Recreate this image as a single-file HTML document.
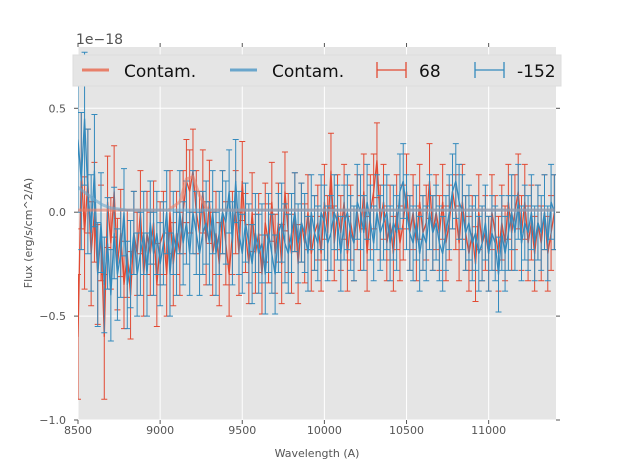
<!DOCTYPE html>
<html><head><meta charset="utf-8"><style>
body{margin:0;background:#fff;font-family:"Liberation Sans","DejaVu Sans",sans-serif}
svg text{font-family:"DejaVu Sans","Liberation Sans",sans-serif}
</style></head><body>
<svg id="chart" width="617" height="467" viewBox="0 0 617 467">
<rect x="78" y="47" width="478" height="373" fill="#e5e5e5"/>
<g id="grid"></g><g id="series"></g><g id="axes"></g>
<text x="76" y="44" font-size="14" fill="#555">1e−18</text>
<text x="317" y="457" font-size="11" fill="#555" text-anchor="middle">Wavelength (A)</text>
<text x="32" y="233" font-size="11" fill="#555" text-anchor="middle" transform="rotate(-90 32 233)">Flux (erg/s/cm^2/A)</text>
<g>
<rect x="73" y="55" width="488" height="31" fill="#e5e5e5" stroke="#ddd"/>
<line x1="82" y1="70" x2="109" y2="70" stroke="#e8806a" stroke-width="3"/>
<text x="124" y="77" font-size="17" fill="#111">Contam.</text>
<line x1="230" y1="70" x2="257" y2="70" stroke="#6aa6cc" stroke-width="3"/>
<text x="272" y="77" font-size="17" fill="#111">Contam.</text>
<path d="M377 62v16M406 62v16M377 70h29" stroke="#e24a33" stroke-width="1.3" fill="none"/>
<text x="419" y="77" font-size="17" fill="#111">68</text>
<path d="M475 62v16M504 62v16M475 70h29" stroke="#348abd" stroke-width="1.3" fill="none"/>
<text x="517" y="77" font-size="17" fill="#111">-152</text>
</g>
</svg>
<script>
const xTicks=[8500,9000,9500,10000,10500,11000];
const yTicks=[0.5,0.0,-0.5,-1.0];
const yTickLabels=["0.5","0.0","−0.5","−1.0"];
const waveStart=8500, waveStep=20;
const red68=[-0.6,0.2,-0.1,0.15,-0.2,0.0,-0.3,-0.1,-0.6,0.05,
-0.15,0.1,-0.25,-0.1,-0.35,-0.2,-0.4,-0.1,-0.2,0.0,
-0.3,-0.1,-0.2,-0.05,-0.35,-0.15,-0.1,-0.3,0.0,-0.25,
-0.1,-0.2,0.0,0.15,0.1,0.2,0.0,-0.1,0.1,-0.15,
0.05,-0.2,-0.1,-0.25,0.0,-0.15,-0.3,-0.1,0.0,-0.2,
0.15,-0.1,-0.25,0.0,-0.2,-0.1,-0.3,-0.05,-0.15,0.05,
-0.2,-0.05,-0.25,0.1,-0.1,-0.2,0.0,-0.25,-0.05,-0.15,
0.0,-0.2,-0.1,-0.05,-0.2,0.05,-0.1,0.2,-0.15,0.0,
-0.1,0.05,-0.2,-0.05,-0.15,0.0,-0.1,0.1,-0.2,0.0,
0.1,0.25,-0.05,0.05,-0.15,-0.05,-0.2,0.0,-0.15,-0.05,
0.1,-0.1,0.0,-0.15,0.05,-0.1,-0.05,0.15,-0.1,0.0,
-0.1,0.05,-0.15,-0.05,0.1,0.0,-0.15,0.05,-0.1,-0.2,
-0.1,-0.25,0.0,-0.15,-0.1,-0.2,0.0,-0.1,-0.2,-0.05,
-0.15,0.05,-0.1,0.0,0.1,-0.1,0.05,-0.15,-0.05,-0.2,
-0.05,-0.15,0.0,-0.2,-0.1,0.0];
const redErr=[0.3,0.28,0.27,0.25,0.25,0.24,0.24,0.23,0.3,0.22,
0.22,0.22,0.22,0.21,0.21,0.21,0.21,0.2,0.2,0.2,
0.2,0.2,0.2,0.2,0.2,0.2,0.2,0.2,0.2,0.2,
0.2,0.2,0.2,0.2,0.2,0.2,0.2,0.2,0.2,0.2,
0.2,0.2,0.2,0.2,0.2,0.2,0.2,0.2,0.2,0.2,
0.19,0.19,0.19,0.19,0.19,0.19,0.19,0.19,0.19,0.19,
0.19,0.19,0.19,0.19,0.19,0.19,0.19,0.19,0.19,0.19,
0.18,0.18,0.18,0.18,0.18,0.18,0.18,0.18,0.18,0.18,
0.18,0.18,0.18,0.18,0.18,0.18,0.18,0.18,0.18,0.18,
0.18,0.18,0.18,0.18,0.18,0.18,0.18,0.18,0.18,0.18,
0.18,0.18,0.18,0.18,0.18,0.18,0.18,0.18,0.18,0.18,
0.18,0.18,0.18,0.18,0.18,0.18,0.18,0.18,0.18,0.18,
0.18,0.18,0.18,0.18,0.18,0.18,0.18,0.18,0.18,0.18,
0.18,0.18,0.18,0.18,0.18,0.18,0.18,0.18,0.18,0.18,
0.18,0.18,0.18,0.18,0.18,0.18];
const blue152=[0.35,0.15,0.45,0.1,-0.1,0.2,-0.3,-0.05,-0.35,-0.15,
-0.4,-0.1,-0.3,-0.2,0.0,-0.35,-0.25,-0.1,-0.3,-0.2,
-0.1,-0.3,-0.05,-0.2,-0.1,-0.25,-0.15,0.0,-0.3,-0.1,
-0.2,0.0,-0.15,-0.05,-0.2,0.0,-0.1,-0.2,-0.1,-0.05,
-0.15,0.0,-0.2,-0.1,0.0,-0.05,0.1,-0.15,0.15,-0.1,
-0.2,-0.05,-0.15,-0.25,-0.1,-0.2,-0.15,-0.3,-0.1,-0.2,
-0.3,-0.1,-0.05,-0.15,-0.2,-0.1,0.0,-0.15,-0.05,-0.1,
-0.2,0.0,-0.1,-0.15,0.0,-0.05,-0.15,-0.1,0.0,-0.05,
-0.2,-0.05,0.0,-0.1,-0.15,0.05,0.0,-0.1,0.05,-0.05,
-0.15,0.0,-0.1,-0.05,0.0,-0.15,-0.05,-0.1,0.1,0.15,
0.0,-0.1,-0.15,-0.05,-0.2,-0.1,-0.15,0.0,-0.1,-0.05,
-0.15,-0.2,-0.1,0.0,0.1,0.15,0.05,0.0,-0.1,-0.05,
-0.15,-0.1,-0.2,-0.15,-0.05,-0.2,-0.1,-0.15,-0.3,-0.1,
-0.2,-0.1,0.0,-0.1,0.05,-0.15,-0.05,-0.1,0.0,-0.15,
-0.05,-0.1,0.0,-0.15,0.05,0.0];
const blueErr=[0.35,0.33,0.32,0.3,0.28,0.27,0.25,0.24,0.23,0.22,
0.22,0.22,0.22,0.21,0.21,0.21,0.21,0.2,0.2,0.2,
0.2,0.2,0.2,0.2,0.2,0.2,0.2,0.2,0.2,0.2,
0.2,0.2,0.2,0.2,0.2,0.2,0.2,0.2,0.2,0.2,
0.2,0.2,0.2,0.2,0.2,0.2,0.2,0.2,0.2,0.2,
0.19,0.19,0.19,0.19,0.19,0.19,0.19,0.19,0.19,0.19,
0.19,0.19,0.19,0.19,0.19,0.19,0.19,0.19,0.19,0.19,
0.18,0.18,0.18,0.18,0.18,0.18,0.18,0.18,0.18,0.18,
0.18,0.18,0.18,0.18,0.18,0.18,0.18,0.18,0.18,0.18,
0.18,0.18,0.18,0.18,0.18,0.18,0.18,0.18,0.18,0.18,
0.18,0.18,0.18,0.18,0.18,0.18,0.18,0.18,0.18,0.18,
0.18,0.18,0.18,0.18,0.18,0.18,0.18,0.18,0.18,0.18,
0.18,0.18,0.18,0.18,0.18,0.18,0.18,0.18,0.18,0.18,
0.18,0.18,0.18,0.18,0.18,0.18,0.18,0.18,0.18,0.18,
0.18,0.18,0.18,0.18,0.18,0.18];
const contamRedWave=[8500,9050,9120,9160,9200,9240,9290,11400];
const contamRed=[0.01,0.01,0.05,0.16,0.17,0.08,0.01,0.01];
const contamBlueWave=[8500,8550,8600,8650,8700,8800,11400];
const contamBlue=[0.12,0.09,0.06,0.035,0.02,0.01,0.01];
const NS="http://www.w3.org/2000/svg";
const X0=78,X1=556,Y0=47,Y1=420,xmin=8500,xmax=11410,ymin=-1.0,ymax=0.795;
const sx=v=>X0+(v-xmin)/(xmax-xmin)*(X1-X0);
const sy=v=>Y1-(v-ymin)/(ymax-ymin)*(Y1-Y0);
function mk(tag,attrs,parent){const e=document.createElementNS(NS,tag);for(const k in attrs)e.setAttribute(k,attrs[k]);parent.appendChild(e);return e;}
const grid=document.getElementById('grid'),axes=document.getElementById('axes'),ser=document.getElementById('series');
xTicks.forEach(t=>{const x=sx(t);
 const g=mk('line',{x1:x,x2:x,y1:Y0,y2:Y1,stroke:'#fff','stroke-width':1},grid);
 
 
 mk('line',{x1:x,x2:x,y1:Y1,y2:Y1+4,stroke:'#555'},axes);
 mk('line',{x1:x,x2:x,y1:Y0,y2:Y0-4,stroke:'#555'},axes);
 const l=mk('text',{x:x,y:Y1+14,'font-size':11,fill:'#555','text-anchor':'middle'},axes);l.textContent=t;
 
 });
yTicks.forEach((t,i)=>{const y=sy(t);
 const g=mk('line',{x1:X0,x2:X1,y1:y,y2:y,stroke:'#fff','stroke-width':1},grid);
 
 
 mk('line',{x1:X0-4,x2:X0,y1:y,y2:y,stroke:'#555'},axes);
 mk('line',{x1:X1,x2:X1+4,y1:y,y2:y,stroke:'#555'},axes);
 const l=mk('text',{x:X0-12,y:y+4,'font-size':11,fill:'#555','text-anchor':'end'},axes);l.textContent=yTickLabels[i];
 
 });
function errSeries(vals,errs,color,name){
 const g=mk('g',{},ser);
 
 
 let d='',pts=[];
 vals.forEach((v,i)=>{const x=sx(waveStart+waveStep*i);const e=errs[i];const a=sy(v+e),b=sy(v-e);
  d+=`M${x} ${a}V${b}M${x-3} ${a}h6M${x-3} ${b}h6`;pts.push(x+','+sy(v));});
 const eb=mk('path',{d:d,stroke:color,'stroke-width':1,fill:'none'},g);
 
 
 const ln=mk('polyline',{points:pts.join(' '),stroke:color,'stroke-width':1.3,fill:'none'},g);
 
 }
function contam(ws,vs,color,name){
 const p=mk('polyline',{points:ws.map((w,i)=>sx(w)+','+sy(vs[i])).join(' '),stroke:color,'stroke-width':3,'stroke-opacity':0.6,fill:'none'},ser);
 
 }
const cp=mk('clipPath',{id:'clip'},document.getElementById('chart'));mk('rect',{x:X0,y:Y0,width:X1-X0,height:Y1-Y0},cp);
ser.setAttribute('clip-path','url(#clip)');
errSeries(red68,redErr,'#e24a33','series-68');
errSeries(blue152,blueErr,'#348abd','series-minus152');
contam(contamRedWave,contamRed,'#e8806a','contam-red');
contam(contamBlueWave,contamBlue,'#6aa6cc','contam-blue');
</script>
</body></html>
